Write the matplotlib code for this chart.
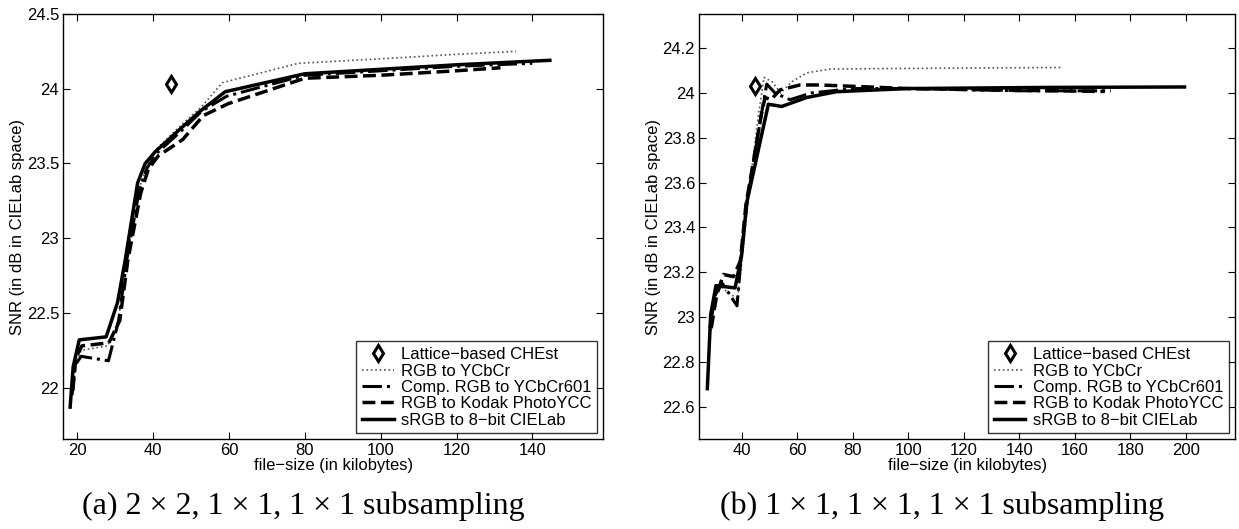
import matplotlib
matplotlib.use("Agg")
import matplotlib.pyplot as plt

plt.rcParams['font.family'] = ['Liberation Sans', 'DejaVu Sans']

labels = ["Lattice\u2212based CHEst", "RGB to YCbCr", "Comp. RGB to YCbCr601",
          "RGB to Kodak PhotoYCC", "sRGB to 8\u2212bit CIELab"]

# lattice-based point (same in both panels)
lat_x = [44.8]
lat_y = [24.03]

# (a) 2x2,1x1,1x1 subsampling
a_dot_x = [18.5, 19.3, 21.0, 28.0, 30.8, 33.0, 36.3, 38.3, 41.0, 47.5, 52.8, 58.2, 78.3, 100, 120, 135.7]
a_dot_y = [21.95, 22.15, 22.25, 22.28, 22.45, 22.85, 23.33, 23.48, 23.60, 23.76, 23.88, 24.04, 24.17, 24.20, 24.23, 24.25]
a_dd_x = [18.6, 19.4, 21.0, 28.2, 30.9, 33.0, 36.4, 38.4, 41.0, 47.5, 52.8, 59.4, 80, 100, 120, 140]
a_dd_y = [21.95, 22.15, 22.21, 22.18, 22.45, 22.85, 23.33, 23.47, 23.57, 23.72, 23.85, 23.95, 24.09, 24.12, 24.15, 24.17]
a_dash_x = [18.8, 19.6, 21.2, 28.3, 31.2, 33.3, 36.7, 38.7, 41.3, 47.8, 53.2, 59.8, 80, 100, 120, 131.6]
a_dash_y = [21.98, 22.20, 22.28, 22.30, 22.45, 22.85, 23.30, 23.46, 23.55, 23.66, 23.82, 23.90, 24.07, 24.09, 24.12, 24.14]
a_sol_x = [18.1, 18.9, 20.5, 27.6, 30.6, 32.6, 35.9, 37.9, 40.6, 47.1, 52.4, 59.0, 80, 100, 120, 144.6]
a_sol_y = [21.87, 22.14, 22.32, 22.34, 22.57, 22.85, 23.37, 23.50, 23.58, 23.73, 23.85, 23.98, 24.10, 24.13, 24.16, 24.19]

# (b) 1x1,1x1,1x1 subsampling
b_dot_x = [28.5, 30.0, 31.5, 34.0, 38.5, 40.5, 42.5, 46.0, 48.0, 51.0, 54.0, 58.0, 63.4, 71.8, 100, 155.1]
b_dot_y = [22.90, 23.05, 23.15, 23.12, 23.08, 23.30, 23.55, 23.90, 24.07, 24.05, 24.00, 24.05, 24.09, 24.107, 24.11, 24.114]
b_dd_x = [28.5, 30.5, 33.0, 38.3, 40.0, 42.0, 47.0, 49.0, 52.0, 57.4, 65.0, 80, 100, 140, 173]
b_dd_y = [22.95, 23.10, 23.15, 23.05, 23.30, 23.52, 23.90, 24.04, 24.00, 23.97, 24.00, 24.02, 24.02, 24.01, 24.01]
b_dash_x = [29.0, 31.0, 33.4, 37.0, 39.5, 41.5, 44.0, 47.0, 48.4, 50.5, 53.8, 61.0, 68.0, 80, 100, 140, 170.8]
b_dash_y = [22.95, 23.10, 23.19, 23.18, 23.25, 23.50, 23.68, 23.90, 23.98, 23.97, 24.014, 24.036, 24.036, 24.03, 24.02, 24.012, 24.007]
b_sol_x = [27.6, 28.8, 30.7, 37.6, 40.0, 41.8, 49.6, 54.4, 63.4, 74.2, 100, 150, 199.6]
b_sol_y = [22.68, 23.01, 23.14, 23.13, 23.28, 23.51, 23.95, 23.94, 23.98, 24.006, 24.02, 24.025, 24.027]

fig = plt.figure(figsize=(12.39, 5.29), dpi=100)
ax1 = fig.add_axes([0.0511, 0.1696, 0.4358, 0.804])
ax2 = fig.add_axes([0.5644, 0.1696, 0.4324, 0.804])

panels = [
    (ax1, a_dot_x, a_dot_y, a_dd_x, a_dd_y, a_dash_x, a_dash_y, a_sol_x, a_sol_y),
    (ax2, b_dot_x, b_dot_y, b_dd_x, b_dd_y, b_dash_x, b_dash_y, b_sol_x, b_sol_y),
]

for ax, dx, dy, ddx, ddy, sx, sy, lx, ly in panels:
    ax.plot(lat_x, lat_y, 'd', ms=8, mfc='white', mec='black', mew=2.2, label=labels[0])
    ax.plot(dx, dy, ':', color='#555555', lw=1.2, label=labels[1])
    ax.plot(ddx, ddy, '-.', color='black', lw=2.2, label=labels[2])
    ax.plot(sx, sy, '--', color='black', lw=2.5, label=labels[3])
    ax.plot(lx, ly, '-', color='black', lw=2.5, label=labels[4])
    ax.tick_params(direction='in', top=True, right=True, length=5, labelsize=12, pad=3)
    for s in ax.spines.values():
        s.set_linewidth(1.0)
    ax.set_xlabel("file\u2212size (in kilobytes)", fontsize=12, labelpad=0)
    ax.set_ylabel("SNR (in dB in CIELab space)", fontsize=12, labelpad=1)
    leg = ax.legend(loc='lower right', fontsize=12, frameon=True, fancybox=False,
                    edgecolor='black', handlelength=1.9, borderpad=0.35,
                    labelspacing=0.08, handletextpad=0.45, borderaxespad=0.35)
    leg.get_frame().set_linewidth(1.0)

ax1.set_xlim(16.3, 158.7)
ax1.set_ylim(21.655, 24.5)
ax1.set_xticks([20, 40, 60, 80, 100, 120, 140])
ax1.set_yticks([22, 22.5, 23, 23.5, 24, 24.5])
ax1.set_yticklabels(["22", "22.5", "23", "23.5", "24", "24.5"])

ax2.set_xlim(24.7, 217.8)
ax2.set_ylim(22.454, 24.353)
ax2.set_xticks([40, 60, 80, 100, 120, 140, 160, 180, 200])
ax2.set_yticks([22.6, 22.8, 23, 23.2, 23.4, 23.6, 23.8, 24, 24.2])
ax2.set_yticklabels(["22.6", "22.8", "23", "23.2", "23.4", "23.6", "23.8", "24", "24.2"])

fig.text(0.2446, 0.043, "(a) 2 \u00d7 2, 1 \u00d7 1, 1 \u00d7 1 subsampling",
         ha='center', va='center', fontsize=23, family='Liberation Serif')
fig.text(0.760, 0.043, "(b) 1 \u00d7 1, 1 \u00d7 1, 1 \u00d7 1 subsampling",
         ha='center', va='center', fontsize=23, family='Liberation Serif')

fig.savefig("out.png", dpi=100)
